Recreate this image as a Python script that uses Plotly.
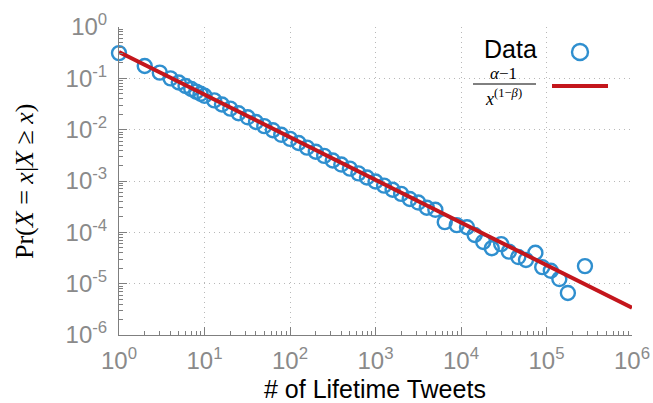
import plotly.graph_objects as go

# Lifetime tweet counts (log-binned) and empirical probabilities
tweets = [1, 2, 3, 4, 5, 6, 7, 8, 9, 10,
          13, 16, 20, 25, 32, 40, 50, 63, 79, 100,
          126, 158, 200, 251, 316, 398, 501, 631, 794, 1000,
          1259, 1585, 1995, 2512, 3162, 3981, 5012,
          6457, 8913, 11749, 14454, 18197, 22909, 29512, 36308,
          46774, 57544, 74131, 89125, 112202, 141254, 177828, 281838]
prob = [0.31, 0.174, 0.129, 0.100, 0.083, 0.071, 0.062, 0.055, 0.050, 0.0457,
        0.0372, 0.0309, 0.0257, 0.0209, 0.0174, 0.0141, 0.0117, 0.00977, 0.00794, 0.00661,
        0.0055, 0.00447, 0.00372, 0.00309, 0.00251, 0.00209, 0.00174, 0.00141, 0.00117, 0.000977,
        0.000813, 0.000676, 0.000562, 0.000447, 0.00038, 0.000302, 0.000275,
        1.58e-4, 1.38e-4, 1.26e-4, 8.9e-5, 6.5e-5, 4.9e-5, 5.9e-5, 4.2e-5,
        3.3e-5, 2.9e-5, 4.0e-5, 2.1e-5, 1.78e-5, 1.23e-5, 6.6e-6, 2.2e-5]

# Power-law fit endpoints
fit_x = [1, 1e6]
fit_y = [0.326, 3.4e-6]

x_tickvals = [1, 10, 100, 1e3, 1e4, 1e5, 1e6]
x_ticktext = ["10<sup>0</sup>", "10<sup>1</sup>", "10<sup>2</sup>", "10<sup>3</sup>",
              "10<sup>4</sup>", "10<sup>5</sup>", "10<sup>6</sup>"]
y_tickvals = [1e-6, 1e-5, 1e-4, 1e-3, 1e-2, 1e-1, 1]
y_ticktext = ["10<sup>-6</sup>", "10<sup>-5</sup>", "10<sup>-4</sup>", "10<sup>-3</sup>",
              "10<sup>-2</sup>", "10<sup>-1</sup>", "10<sup>0</sup>"]

BLUE = "#2f8fcf"
RED = "#c4161c"
GREY = "#7f7f7f"
LABEL_GREY = "#8a8a8a"
GRID = "#b8b8b8"
SANS = "Liberation Sans, Arial, sans-serif"
SERIF = "Liberation Serif, DejaVu Serif, serif"

fig = go.Figure()
fig.add_trace(go.Scatter(
    x=tweets, y=prob, mode="markers", cliponaxis=False, showlegend=False,
    marker=dict(symbol="circle-open", size=14, color=BLUE, line=dict(width=2.4, color=BLUE)),
))
fig.add_trace(go.Scatter(
    x=fit_x, y=fit_y, mode="lines", showlegend=False,
    line=dict(color=RED, width=4),
))

axis_common = dict(
    type="log", showline=True, linecolor=GREY, linewidth=1,
    ticks="inside", ticklen=8, tickcolor=GREY, tickwidth=1,
    tickmode="array",
    tickfont=dict(family=SANS, size=24, color=LABEL_GREY),
    showgrid=True, gridcolor=GRID, griddash="1px,4px", gridwidth=1,
    zeroline=False, mirror=False,
    minor=dict(ticks="inside", ticklen=4, tickcolor=GREY, tickwidth=1,
               dtick="D1", showgrid=False),
)

fig.update_xaxes(range=[0, 6], tickvals=x_tickvals, ticktext=x_ticktext,
                 ticklabelstandoff=4, **axis_common)
fig.update_yaxes(range=[-6, 0], tickvals=y_tickvals, ticktext=y_ticktext,
                 ticklabelstandoff=6, **axis_common)

W, H = 653, 403
L, R, T, B = 119, 21, 27, 68
PW, PH = W - L - R, H - T - B


def px(xp):
    return (xp - L) / PW


def py(yp):
    return (H - B - yp) / PH


annotations = [
    # axis titles
    dict(x=px(375), y=py(389), text="# of Lifetime Tweets", showarrow=False,
         xref="paper", yref="paper", xanchor="center", yanchor="middle",
         font=dict(family=SANS, size=25, color="black")),
    dict(x=px(24), y=py(181),
         text="Pr(<i>X</i> = <i>x</i>|<i>X</i> ≥ <i>x</i>)", textangle=-90,
         showarrow=False, xref="paper", yref="paper", xanchor="center", yanchor="middle",
         font=dict(family=SERIF, size=26, color="black")),
    # legend labels
    dict(x=px(510), y=py(49), text="Data", showarrow=False,
         xref="paper", yref="paper", xanchor="center", yanchor="middle",
         font=dict(family=SANS, size=25, color="black")),
    dict(x=px(503), y=py(73), text="<i>α</i>−1", showarrow=False,
         xref="paper", yref="paper", xanchor="center", yanchor="middle",
         font=dict(family=SERIF, size=17, color="black")),
    dict(x=px(503), y=py(97), text="<i>x</i><sup>(1−<i>β</i>)</sup>", showarrow=False,
         xref="paper", yref="paper", xanchor="center", yanchor="middle",
         font=dict(family=SERIF, size=18, color="black")),
]

shapes = [
    # fraction bar
    dict(type="line", xref="paper", yref="paper", x0=px(473), x1=px(536),
         y0=py(84), y1=py(84), line=dict(color="black", width=1)),
    # legend sample: marker
    dict(type="circle", xref="paper", yref="paper",
         xsizemode="pixel", ysizemode="pixel",
         xanchor=px(580), yanchor=py(52), x0=-8, x1=8, y0=-8, y1=8,
         line=dict(color=BLUE, width=2.4)),
    # legend sample: fit line
    dict(type="line", xref="paper", yref="paper", x0=px(552), x1=px(608),
         y0=py(86), y1=py(86), line=dict(color=RED, width=4)),
]

fig.update_layout(
    width=W, height=H,
    margin=dict(l=L, r=R, t=T, b=B, autoexpand=False),
    paper_bgcolor="white", plot_bgcolor="white",
    annotations=annotations, shapes=shapes,
    showlegend=False,
)

fig.write_html("out.html")
